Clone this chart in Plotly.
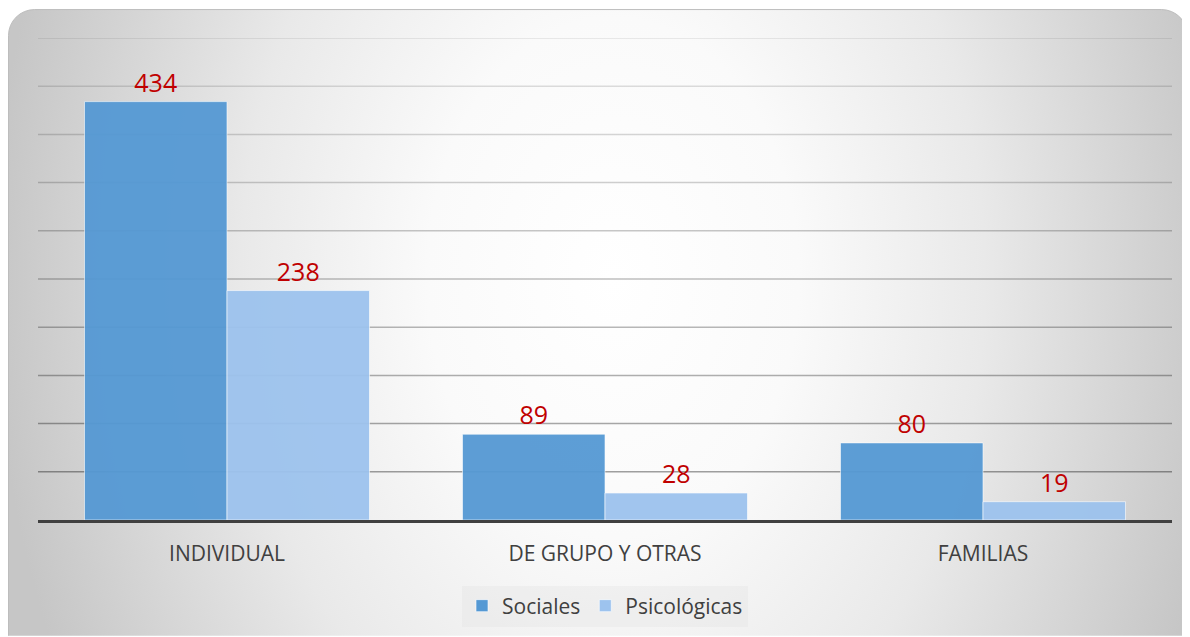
import plotly.graph_objects as go
import base64

categories = ["INDIVIDUAL", "DE GRUPO Y OTRAS", "FAMILIAS"]
sociales = [434, 89, 80]
psicologicas = [238, 28, 19]
series_names = ["Sociales", "Psicológicas"]

# page body has an 8px margin, so the figure is sized to fit the window after it
OFF = 8
W, H = 1190 - OFF, 637 - OFF
L, R, T, B = 38 - OFF, 18, 38 - OFF, 116
pw, ph = W - L - R, H - T - B

YMAX, DTICK = 500, 50

svg = f'''<svg xmlns="http://www.w3.org/2000/svg" width="{W}" height="{H}" viewBox="0 0 {W} {H}" preserveAspectRatio="none">
<defs>
<radialGradient id="g" gradientUnits="userSpaceOnUse" cx="605" cy="270" r="620"
 gradientTransform="translate(605 270) scale(1 1.4) translate(-605 -270)">
<stop offset="0" stop-color="#ffffff"/>
<stop offset="0.3" stop-color="#fafafa"/>
<stop offset="0.6" stop-color="#e9e9e9"/>
<stop offset="1" stop-color="#c6c6c6"/>
</radialGradient>
</defs>
<rect x="0.5" y="1.5" width="1179" height="680" rx="26" ry="26" fill="url(#g)" stroke="#bdbdbd" stroke-width="1"/>
</svg>'''
src = "data:image/svg+xml;base64," + base64.b64encode(svg.encode()).decode()

font_family = "Open Sans, Noto Sans, sans-serif"

fig = go.Figure()
fig.add_trace(go.Bar(
    x=categories, y=sociales, name=series_names[0],
    marker=dict(color="#5599D4", opacity=0.95, line=dict(color="rgba(255,255,255,0.6)", width=1)),
    text=sociales, textposition="outside",
    textfont=dict(color="#C00000", size=25, family=font_family),
    cliponaxis=False,
))
fig.add_trace(go.Bar(
    x=categories, y=psicologicas, name=series_names[1],
    marker=dict(color="#9DC3EE", opacity=0.95, line=dict(color="rgba(255,255,255,0.6)", width=1)),
    text=psicologicas, textposition="outside",
    textfont=dict(color="#C00000", size=25, family=font_family),
    cliponaxis=False,
))

# gridlines that darken towards the baseline, as in the original
shapes = []
for v in range(DTICK, YMAX + 1, DTICK):
    a = 0.1 + 0.3 * (1 - v / YMAX)
    shapes.append(dict(
        type="line", xref="paper", yref="y", x0=0, x1=1, y0=v, y1=v,
        line=dict(color=f"rgba(0,0,0,{a:.3f})", width=1.5), layer="below",
    ))

fig.update_layout(
    width=W, height=H,
    margin=dict(l=L, r=R, t=T, b=B, pad=0),
    paper_bgcolor="#ffffff",
    plot_bgcolor="rgba(0,0,0,0)",
    barmode="group",
    bargap=0.246,
    bargroupgap=0,
    font=dict(family=font_family, color="#404040"),
    showlegend=True,
    legend=dict(
        orientation="h", x=0.5, xanchor="center", y=(T + ph - (606 - OFF)) / ph, yanchor="middle",
        bgcolor="rgba(225,225,225,0.35)", font=dict(size=21, color="#404040"),
        itemwidth=30,
    ),
    shapes=shapes,
    images=[dict(
        source=src, xref="paper", yref="paper",
        x=-L / pw, y=1 + T / ph, sizex=W / pw, sizey=H / ph,
        xanchor="left", yanchor="top", sizing="stretch", layer="below",
    )],
)
fig.update_xaxes(
    showline=True, linecolor="#404040", linewidth=3,
    showgrid=False, ticks="", tickfont=dict(size=21, color="#404040"),
    ticklabelstandoff=13,
)
fig.update_yaxes(
    range=[0, YMAX], dtick=DTICK, showticklabels=False,
    showgrid=False, zeroline=False,
)

fig.write_html("out.html")
